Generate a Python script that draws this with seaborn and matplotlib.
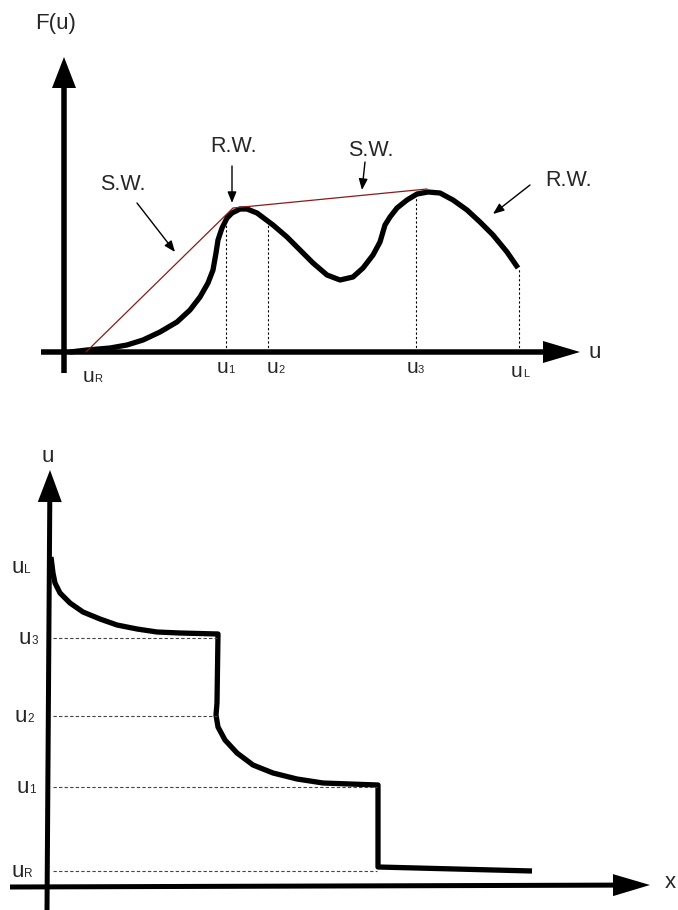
import numpy as np
import pandas as pd
import seaborn as sns
import matplotlib.pyplot as plt

sns.set_theme(style="white")
plt.rcParams["font.family"] = ["Liberation Sans", "DejaVu Sans"]

# ---- flux function F(u) (upper panel) ----
flux_u = [6, 23, 46, 63, 79, 96, 113, 126, 136, 144, 149, 152, 154, 158, 163,
          168, 176, 183, 193, 209, 223, 236, 249, 263, 276, 289, 299, 309, 316,
          321, 326, 333, 343, 353, 364, 376, 389, 403, 416, 429, 443, 454]
flux_F = [0, 2, 4, 7, 12, 20, 30, 42, 55, 69, 82, 99, 112, 124, 134,
          139, 143, 143, 139, 127, 115, 102, 89, 77, 72, 75, 84, 97, 110,
          127, 135, 144, 152, 158, 160, 159, 152, 142, 130, 117, 100, 84]

# convex-hull chords (shock waves)
hull_u = [22, 169, 363]
hull_F = [0, 144, 163]

# characteristic states marked on the u axis
state_names = ["R", "1", "2", "3", "L"]
state_u = [22, 162, 204, 352, 455]
state_F = [0, 131, 128, 160, 84]

# ---- solution profile u(x) (lower panel) ----
prof_x = [1, 2, 3, 5, 10, 20, 33, 50, 67, 87, 107, 130, 168,
          167, 166, 168, 175, 187, 203, 223, 247, 273, 300, 328,
          328, 482]
prof_u = [329, 321, 313, 303, 293, 283, 274, 267, 261, 257, 254, 253, 252,
          183, 171, 159, 146, 133, 121, 113, 107, 103, 102, 101,
          19, 15]
# levels of the intermediate states in the profile
level_names = ["L", "3", "2", "1", "R"]
level_u = [319, 248, 170, 99, 15]
level_xend = [None, 167, 167, 327, 327]

fig = plt.figure(figsize=(6.78, 9.10), dpi=100)
fig.patch.set_facecolor("white")

# upper panel: 1 data unit == 1 pixel
ax1 = fig.add_axes([0, 480 / 910, 1, 430 / 910])
ax1.set_xlim(-64, 614)
ax1.set_ylim(-78, 352)
ax1.set_axis_off()

# lower panel
ax2 = fig.add_axes([0, 0, 1, 480 / 910])
ax2.set_xlim(-50, 628)
ax2.set_ylim(-24, 456)
ax2.set_axis_off()

# axes with arrow heads
ax1.arrow(0, -21, 0, 316, width=5.5, head_width=24, head_length=31,
          length_includes_head=True, color="black", lw=0)
ax1.arrow(-23, 0, 539, 0, width=5.5, head_width=22, head_length=37,
          length_includes_head=True, color="black", lw=0)
ax2.arrow(-3, -24, 3, 440, width=5, head_width=24, head_length=32,
          length_includes_head=True, color="black", lw=0)
ax2.arrow(-40, -1, 640, 2, width=5, head_width=22, head_length=37,
          length_includes_head=True, color="black", lw=0)

ax1.text(-8, 329, "F(u)", fontsize=16, ha="center", va="center")
ax1.text(531, -1, "u", fontsize=16, ha="center", va="center")
ax2.text(-2, 429, "u", fontsize=16, ha="center", va="center")
ax2.text(620, 3, "x", fontsize=16, ha="center", va="center")


def state_label(ax, x, y, sub, size=15, sub_size=8):
    """Write u with a small subscript; (x, y) is the baseline under the 'u'."""
    ax.text(x, y, "u", fontsize=size, ha="center", va="baseline")
    ax.annotate(sub, xy=(x, y), xytext=(size * 0.29, 0),
                textcoords="offset points", fontsize=sub_size,
                ha="left", va="baseline")


# flux curve and chords
sns.lineplot(data=pd.DataFrame({"u": flux_u, "F": flux_F}), x="u", y="F",
             sort=False, estimator=None, color="black", lw=3.8, ax=ax1,
             solid_capstyle="butt", solid_joinstyle="round")
sns.lineplot(data=pd.DataFrame({"u": hull_u, "F": hull_F}), x="u", y="F",
             sort=False, estimator=None, color="#8b1a1a", lw=0.9, ax=ax1)

# dashed drop lines and state labels
label_dy = {"R": -30, "1": -21, "2": -21, "3": -21, "L": -25}
label_dx = {"R": 2, "1": -4, "2": 4, "3": -4, "L": -2}
for name, u, F in zip(state_names, state_u, state_F):
    if name != "R":
        ax1.plot([u, u], [0, F], color="black", lw=0.8, ls=(0, (2, 2)))
    state_label(ax1, u + label_dx[name], label_dy[name], name)

# wave annotations
arrow_kw = dict(arrowstyle="-|>,head_length=0.55,head_width=0.22",
                color="black", lw=1.0, shrinkA=0, shrinkB=0)
ax1.annotate("", xy=(111, 100), xytext=(73, 149), arrowprops=arrow_kw)
ax1.text(59, 167, "S.W.", fontsize=15.5, ha="center", va="center")
ax1.annotate("", xy=(168, 149), xytext=(168, 186), arrowprops=arrow_kw)
ax1.text(170, 205, "R.W.", fontsize=15.5, ha="center", va="center")
ax1.annotate("", xy=(298, 162), xytext=(301, 190), arrowprops=arrow_kw)
ax1.text(307, 202, "S.W.", fontsize=15.5, ha="center", va="center")
ax1.annotate("", xy=(429, 138), xytext=(466, 167), arrowprops=arrow_kw)
ax1.text(505, 172, "R.W.", fontsize=15.5, ha="center", va="center")

# solution profile
sns.lineplot(data=pd.DataFrame({"x": prof_x, "u": prof_u}), x="x", y="u",
             sort=False, estimator=None, color="black", lw=3.8, ax=ax2,
             solid_capstyle="butt", solid_joinstyle="round")

label_x2 = {"L": -32, "3": -25, "2": -29, "1": -27, "R": -32}
for name, u, xend in zip(level_names, level_u, level_xend):
    if xend is not None:
        ax2.plot([3, xend], [u, u], color="#444444", lw=0.8, ls=(0, (3, 2)))
    state_label(ax2, label_x2[name], u - 6, name, size=16, sub_size=8.5)

fig.savefig("out.png", dpi=100, facecolor="white")
